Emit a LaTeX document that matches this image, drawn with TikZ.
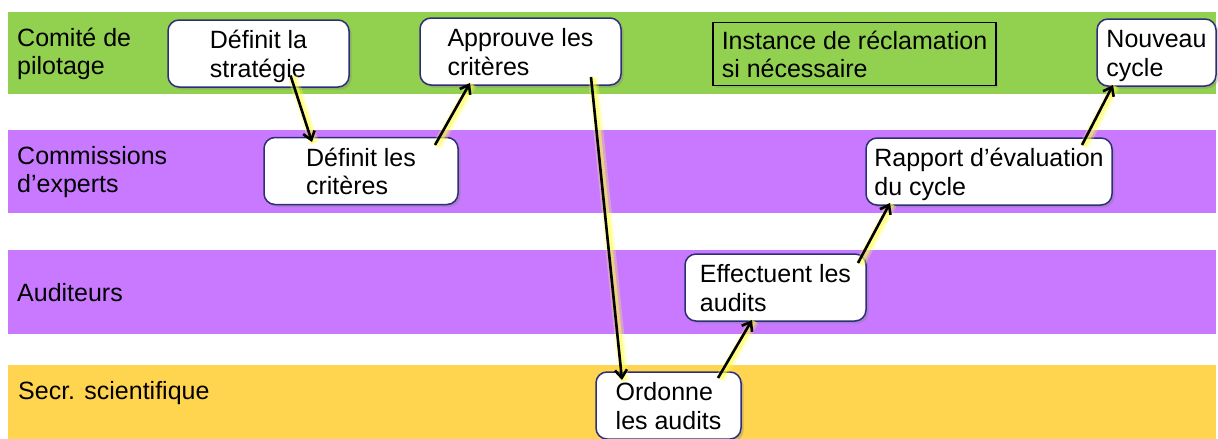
\documentclass[tikz,border=0pt]{standalone}
\usepackage{fontspec}
\setmainfont{Liberation Sans}
\usetikzlibrary{calc,shadows,arrows.meta}
\definecolor{lanegreen}{RGB}{146,208,80}
\definecolor{lanepurple}{RGB}{200,121,255}
\definecolor{laneyellow}{RGB}{255,212,79}
\definecolor{boxline}{RGB}{46,46,120}
\definecolor{glow}{RGB}{255,255,70}

\begin{document}
\begin{tikzpicture}[x=1pt,y=-1pt,
    font=\fontsize{25}{28.5}\selectfont,
    lane/.style={inner sep=0pt,anchor=west,align=left},
    box/.style={draw=boxline,line width=1.5pt,fill=white,rounded corners=11pt,
      align=left,minimum height=67pt,inner sep=2pt,text height=53pt,text depth=6pt,
      drop shadow={shadow xshift=2.5pt,shadow yshift=-2.5pt,opacity=.35}},
    note/.style={draw=black,line width=1.5pt,fill=lanegreen,align=left,
      minimum height=60pt,inner sep=2pt,text height=53pt,text depth=6pt,
      drop shadow={shadow xshift=2pt,shadow yshift=-2pt,opacity=.2}},
    link/.style={->,line width=2.6pt,
      preaction={draw=glow,line width=10pt,opacity=.3,-,
        transform canvas={xshift=2pt,yshift=-1pt}},
      preaction={draw=glow,line width=5pt,opacity=.5,-,
        transform canvas={xshift=2pt,yshift=-1pt}}},
    >={Straight Barb[length=8pt,width=12pt]}]

  \useasboundingbox (0,0) rectangle (1218,439);

  % lanes
  \fill[lanegreen]  (8,12)  rectangle (1216,94);
  \fill[lanepurple] (8,130) rectangle (1216,213);
  \fill[lanepurple] (8,250) rectangle (1216,334);
  \fill[laneyellow] (8,365) rectangle (1216,439);

  \node[lane] (comite)  at (17,54)  {Comité de\\pilotage};
  \node[lane] (commis)  at (17,172) {Commissions\\d’experts};
  \node[lane] (audit)   at (17,293) {Auditeurs};
  \node[lane] (secr)    at (18,393) {Secr. scientifique};

  % steps
  \node[box,minimum width=181pt] (strat) at (258.5,53.5) {Définit la\\stratégie};
  \node[box,minimum width=194pt] (crit)  at (361,171)    {Définit les\\critères};
  \node[box,minimum width=201pt] (appr)  at (520.5,51.5) {Approuve les\\critères};
  \node[note,minimum width=283pt] (inst) at (854.5,54)   {Instance de réclamation\\si nécessaire};
  \node[box,minimum width=119pt] (nouv)  at (1156.5,52.5) {Nouveau\\cycle};
  \node[box,minimum width=246pt] (rapp)  at (989,171.5)  {Rapport d’évaluation\\du cycle};
  \node[box,minimum width=181pt] (eff)   at (775.5,287.5) {Effectuent les\\audits};
  \node[box,minimum width=145pt] (ord)   at (668.5,405.5) {Ordonne\\les audits};

  % flow
  \path ($(strat)+(32,22)$)   edge[link] ($(crit)+(-49,-29)$)
        ($(crit)+(74,-26)$)   edge[link] ($(appr)+(-50.5,31.5)$)
        ($(appr)+(70.5,25.5)$) edge[link] ($(ord)+(-46.5,-25.5)$)
        ($(ord)+(49.5,-27.5)$) edge[link] ($(eff)+(-23.5,32.5)$)
        ($(eff)+(82.5,-24.5)$) edge[link] ($(rapp)+(-99,31.5)$)
        ($(rapp)+(93,-26.5)$)  edge[link] ($(nouv)+(-43.5,32.5)$);
\end{tikzpicture}
\end{document}
